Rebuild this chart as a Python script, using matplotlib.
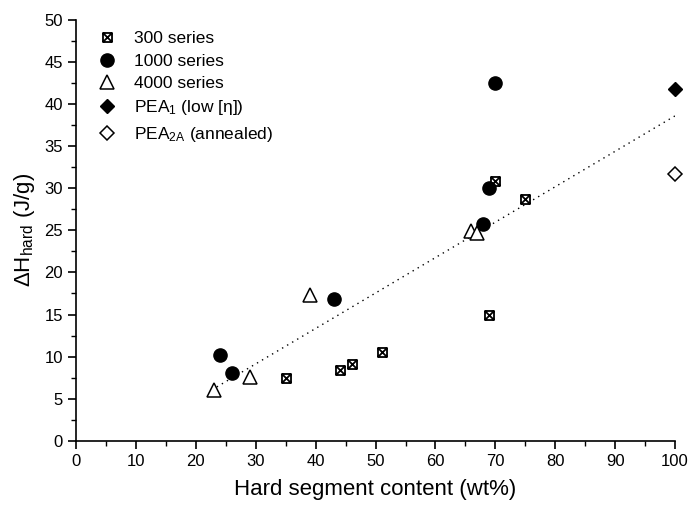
import matplotlib
matplotlib.use("Agg")
import matplotlib.pyplot as plt
from matplotlib.path import Path
from matplotlib.ticker import MultipleLocator

plt.rcParams['font.family'] = ['Liberation Sans', 'DejaVu Sans']
plt.rcParams['mathtext.fontset'] = 'custom'
plt.rcParams['mathtext.rm'] = 'Liberation Sans'
plt.rcParams['mathtext.it'] = 'Liberation Sans:italic'
plt.rcParams['mathtext.bf'] = 'Liberation Sans:bold'

# Hard segment content (wt%) and hard-phase melting enthalpy (J/g)
s300_x = [35, 44, 46, 51, 69, 70, 75]
s300_y = [7.4, 8.4, 9.1, 10.5, 15.0, 30.8, 28.7]

s1000_x = [24, 26, 43, 68, 69, 70]
s1000_y = [10.2, 8.1, 16.9, 25.7, 30.0, 42.5]

s4000_x = [23, 29, 39, 66, 67]
s4000_y = [6.0, 7.6, 17.3, 24.9, 24.7]

pea1_x = [100]
pea1_y = [41.8]

pea2a_x = [100]
pea2a_y = [31.7]

# Linear trend line endpoints
fit_x = [23.5, 100]
fit_y = [6.4, 38.6]

# Square with a cross inside
box_x = Path(
    [(-1, -1), (1, -1), (1, 1), (-1, 1), (-1, -1),
     (-1, -1), (1, 1), (-1, 1), (1, -1)],
    [Path.MOVETO, Path.LINETO, Path.LINETO, Path.LINETO, Path.CLOSEPOLY,
     Path.MOVETO, Path.LINETO, Path.MOVETO, Path.LINETO])

fig = plt.figure(figsize=(6.91, 5.09), dpi=100)
ax = fig.add_axes([0.110, 0.134, 0.867, 0.827])

ax.plot(fit_x, fit_y, linestyle=(0, (1, 3.2)), color='black', lw=1.0, zorder=1)

ax.plot(s300_x, s300_y, linestyle='none', marker=box_x, markersize=6.5,
        markerfacecolor='white', markeredgecolor='black', markeredgewidth=1.3,
        label='300 series', zorder=3)
ax.plot(s1000_x, s1000_y, linestyle='none', marker='o', markersize=9.5,
        color='black', label='1000 series', zorder=3)
ax.plot(s4000_x, s4000_y, linestyle='none', marker='^', markersize=10,
        markerfacecolor='white', markeredgecolor='black', markeredgewidth=1.1,
        label='4000 series', zorder=3)
ax.plot(pea1_x, pea1_y, linestyle='none', marker='D', markersize=7.5,
        color='black', label='PEA$_1$ (low [η])', zorder=3, clip_on=False)
ax.plot(pea2a_x, pea2a_y, linestyle='none', marker='D', markersize=7.5,
        markerfacecolor='white', markeredgecolor='black', markeredgewidth=1.1,
        label=r'PEA$_{\mathrm{2A}}$ (annealed)', zorder=3, clip_on=False)

ax.set_xlim(0, 100)
ax.set_ylim(0, 50)
ax.xaxis.set_major_locator(MultipleLocator(10))
ax.xaxis.set_minor_locator(MultipleLocator(5))
ax.yaxis.set_major_locator(MultipleLocator(5))
ax.yaxis.set_minor_locator(MultipleLocator(2.5))
ax.tick_params(which='major', direction='out', length=6, width=1.2, labelsize=12)
ax.tick_params(which='minor', direction='out', length=3.5, width=1.0)

for side in ('top', 'right'):
    ax.spines[side].set_visible(False)
for side in ('left', 'bottom'):
    ax.spines[side].set_linewidth(1.2)

ax.set_xlabel('Hard segment content (wt%)', fontsize=16, labelpad=7)
ax.set_ylabel(r'$\Delta$H$_{\mathrm{hard}}$ (J/g)', fontsize=16, labelpad=5)

ax.legend(loc='upper left', frameon=False, fontsize=12.5, handletextpad=0.75,
          handlelength=1.6, labelspacing=0.42, borderaxespad=0.0,
          bbox_to_anchor=(0.017, 0.99))

fig.savefig('out.png', dpi=100)
